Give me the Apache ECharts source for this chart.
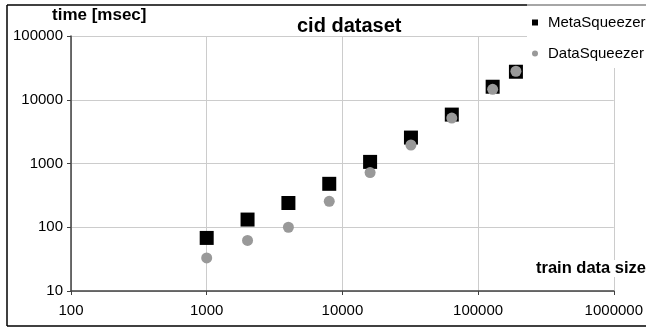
<!DOCTYPE html>
<html>
<head>
<meta charset="utf-8">
<script src="https://cdn.jsdelivr.net/npm/echarts@6/dist/echarts.min.js"></script>
<style>
html,body{margin:0;padding:0;background:#fff;}
#c{width:646px;height:328px;}
</style>
</head>
<body>
<div id="c"></div>
<script>
const trainSizes = [1000, 2000, 4000, 8000, 16000, 32000, 64000, 128000, 190000];
const metaSqueezer = [68, 132, 240, 480, 1060, 2550, 5850, 16000, 27500];
const dataSqueezer = [33, 62, 100, 255, 720, 1950, 5150, 14600, 28000];
const seriesNames = ['MetaSqueezer', 'DataSqueezer'];
const xTicks = [100, 1000, 10000, 100000, 1000000];
const yTicks = [10, 100, 1000, 10000, 100000];

const FONT = "'Liberation Sans', Arial, sans-serif";
const chart = echarts.init(document.getElementById('c'), null, {renderer: 'canvas'});

function pairs(xs, ys) { return xs.map((x, i) => [x, ys[i]]); }

const axisCommon = {
  type: 'log',
  logBase: 10,
  axisLine: {show: true, lineStyle: {color: '#404040', width: 1.5}},
  axisTick: {show: true, length: 4, inside: false, lineStyle: {color: '#404040', width: 1}},
  splitLine: {show: true, lineStyle: {color: '#cccccc', width: 1}},
  minorTick: {show: false},
  minorSplitLine: {show: false}
};

chart.setOption({
  animation: false,
  backgroundColor: '#fff',
  title: {
    text: 'cid dataset',
    left: 297, top: 16,
    padding: 0,
    textStyle: {fontFamily: FONT, fontWeight: 'bold', fontSize: 20, color: '#000'}
  },
  legend: {
    orient: 'vertical',
    left: 527, top: 6,
    padding: [9, 12, 7, 5],
    backgroundColor: '#fff',
    itemWidth: 6, itemHeight: 6,
    itemGap: 16,
    textStyle: {fontFamily: FONT, fontSize: 15, color: '#000', padding: [0, 0, 0, 5]},
    data: [
      {name: seriesNames[0], icon: 'rect', itemStyle: {color: '#000'}},
      {name: seriesNames[1], icon: 'circle', itemStyle: {color: '#999'}}
    ],
    z: 10
  },
  grid: {left: 71, right: 27, top: 36, bottom: 37, containLabel: false},
  xAxis: Object.assign({}, axisCommon, {
    min: xTicks[0], max: xTicks[xTicks.length - 1],
    axisLabel: {fontFamily: FONT, fontSize: 15, color: '#000', margin: 12, showMaxLabel: true, showMinLabel: true, hideOverlap: false,
      formatter: v => String(Math.round(v))}
  }),
  yAxis: Object.assign({}, axisCommon, {
    min: yTicks[0], max: yTicks[yTicks.length - 1],
    axisLabel: {fontFamily: FONT, fontSize: 15, color: '#000', margin: 8,
      formatter: v => String(Math.round(v))}
  }),
  graphic: [
    {type: 'line', shape: {x1: 7, y1: 5, x2: 527, y2: 5}, style: {stroke: '#000', lineWidth: 1.5}, z: 100},
    {type: 'line', shape: {x1: 527, y1: 5, x2: 646, y2: 5}, style: {stroke: '#888', lineWidth: 1.5}, z: 100},
    {type: 'line', shape: {x1: 7, y1: 5, x2: 7, y2: 326}, style: {stroke: '#000', lineWidth: 1.5}, z: 100},
    {type: 'line', shape: {x1: 7, y1: 326, x2: 646, y2: 326}, style: {stroke: '#000', lineWidth: 1.5}, z: 100},
    {type: 'text', left: 52, top: 7, z: 100,
      style: {text: 'time [msec]', fontFamily: FONT, fontWeight: 'bold', fontSize: 17, fill: '#000'}},
    {type: 'text', right: 0, top: 260, z: 100,
      style: {text: 'train data size', fontFamily: FONT, fontWeight: 'bold', fontSize: 16.5, fill: '#000',
        backgroundColor: '#fff'}}
  ],
  series: [
    {
      name: seriesNames[0], type: 'scatter', symbol: 'rect', symbolSize: 14,
      itemStyle: {color: '#000', opacity: 1},
      data: pairs(trainSizes, metaSqueezer), z: 2
    },
    {
      name: seriesNames[1], type: 'scatter', symbol: 'circle', symbolSize: 11,
      itemStyle: {color: '#999', opacity: 1},
      data: pairs(trainSizes, dataSqueezer), z: 3
    }
  ]
});
</script>
</body>
</html>
